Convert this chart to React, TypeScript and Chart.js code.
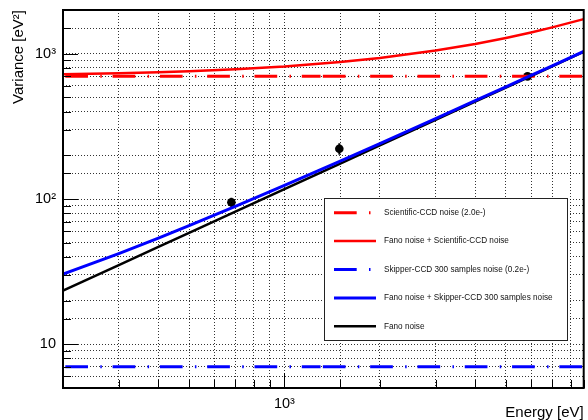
import React, { useEffect, useRef } from 'react';
import { Chart, registerables } from 'chart.js';

Chart.register(...registerables);

// ---- data ----
const curveEnergies = [200, 300, 400, 500, 700, 1000, 1500, 2000, 3000, 4000, 5000, 6000, 7000, 8800];
const fanoNoise = [23.4, 35.1, 46.8, 58.5, 81.9, 117, 175.5, 234, 351, 468, 585, 702, 819, 1030];
const fanoPlusScientific = [723, 735, 747, 759, 782, 817, 876, 934, 1051, 1168, 1285, 1402, 1519, 1730];
const fanoPlusSkipper = [30.4, 42.1, 53.8, 65.5, 88.9, 124, 182.5, 241, 358, 475, 592, 709, 826, 1037];

// flat noise levels (drawn in two pieces, as in the reference)
const flatEnergiesLow = [200, 1300];
const flatEnergiesHigh = [1300, 8800];
const scientificNoise = [700, 700];
const skipperNoise = [7, 7];

// measured points
const measEnergies = [680, 1490, 5850];
const measVariance = [95, 222, 698];
const measError = [7, 20, 15];

// axes
const xRange = [200, 8800];
const yRange = [5, 2000];
const xTickLabels: Record<number, string> = { 1000: '10\u00b3' };
const yTickLabels: Record<number, string> = { 10: '10', 100: '10\u00b2', 1000: '10\u00b3' };

const legendLabels = [
  'Scientific-CCD noise (2.0e-)',
  'Fano noise + Scientific-CCD noise',
  'Skipper-CCD 300 samples noise (0.2e-)',
  'Fano noise + Skipper-CCD 300 samples noise',
  'Fano noise',
];

const RED = '#ff0000';
const BLUE = '#0000ff';
const BLACK = '#000000';
const FONT = '"Liberation Sans", Arial, Helvetica, sans-serif';
const DASH = [22.7, 12.3, 1.5, 10.8];
const DASH_OFFSET = 45;

const legendStyles = [
  { color: RED, dashed: true, width: 3 },
  { color: RED, dashed: false, width: 2.5 },
  { color: BLUE, dashed: true, width: 3 },
  { color: BLUE, dashed: false, width: 3 },
  { color: BLACK, dashed: false, width: 2.5 },
];

const pts = (xs: number[], ys: number[]) => xs.map((x, i) => ({ x, y: ys[i] }));

const labelFor = (table: Record<number, string>, v: number) => {
  for (const k of Object.keys(table)) {
    if (Math.abs(Number(k) - v) < 1e-6) return table[Number(k)];
  }
  return '';
};

const isPow10 = (v: number) => Math.abs(Math.log10(v) - Math.round(Math.log10(v))) < 1e-9;

const errorBarPlugin = {
  id: 'errorBars',
  beforeDatasetsDraw(chart: any) {
    const { ctx, scales } = chart;
    ctx.save();
    ctx.strokeStyle = BLACK;
    ctx.lineWidth = 2;
    measEnergies.forEach((e, i) => {
      const px = scales.x.getPixelForValue(e);
      const y1 = scales.y.getPixelForValue(measVariance[i] - measError[i]);
      const y2 = scales.y.getPixelForValue(measVariance[i] + measError[i]);
      ctx.beginPath();
      ctx.moveTo(px, y1);
      ctx.lineTo(px, y2);
      ctx.stroke();
    });
    ctx.restore();
  },
};

const framePlugin = {
  id: 'rootFrame',
  afterDatasetsDraw(chart: any) {
    const { ctx, chartArea: a, scales } = chart;
    ctx.save();
    ctx.strokeStyle = BLACK;
    ctx.lineWidth = 1;
    scales.y.ticks.forEach((t: any) => {
      const py = Math.round(scales.y.getPixelForValue(t.value)) + 0.5;
      const len = isPow10(t.value) ? 15 : 8;
      ctx.beginPath();
      ctx.moveTo(a.left, py);
      ctx.lineTo(a.left + len, py);
      ctx.stroke();
    });
    scales.x.ticks.forEach((t: any) => {
      const px = Math.round(scales.x.getPixelForValue(t.value)) + 0.5;
      const len = isPow10(t.value) ? 15 : 8;
      ctx.beginPath();
      ctx.moveTo(px, a.bottom);
      ctx.lineTo(px, a.bottom - len);
      ctx.stroke();
    });
    ctx.lineWidth = 2;
    ctx.strokeRect(a.left, a.top, a.right - a.left, a.bottom - a.top);

    // legend box
    const w = a.right - a.left;
    const h = a.bottom - a.top;
    const x1 = Math.round(a.left + 0.502 * w) + 0.5;
    const x2 = Math.round(a.left + 0.968 * w) + 0.5;
    const y1 = Math.round(a.top + 0.497 * h) + 0.5;
    const y2 = Math.round(a.top + 0.873 * h) + 0.5;
    ctx.fillStyle = '#ffffff';
    ctx.fillRect(x1, y1, x2 - x1, y2 - y1);
    ctx.lineWidth = 1;
    ctx.strokeStyle = '#222';
    ctx.strokeRect(x1, y1, x2 - x1, y2 - y1);
    const rowH = (y2 - y1) / legendLabels.length;
    ctx.font = `8.2px ${FONT}`;
    ctx.textBaseline = 'middle';
    ctx.textAlign = 'left';
    legendLabels.forEach((label, i) => {
      const st = legendStyles[i];
      const cy = y1 + rowH * (i + 0.5);
      ctx.save();
      ctx.strokeStyle = st.color;
      ctx.lineWidth = st.width;
      ctx.setLineDash(st.dashed ? DASH : []);
      ctx.beginPath();
      ctx.moveTo(x1 + 9.5, cy);
      ctx.lineTo(x1 + 51.5, cy);
      ctx.stroke();
      ctx.restore();
      ctx.fillStyle = '#111';
      ctx.fillText(label, x1 + 59.5, cy);
    });
    ctx.restore();
  },
};

export default function App() {
  const ref = useRef<HTMLCanvasElement>(null);

  useEffect(() => {
    const canvas = ref.current;
    if (!canvas) return;
    const lineCommon = { pointRadius: 0, pointHoverRadius: 0, fill: false, tension: 0 };
    const chart = new Chart(canvas, {
      type: 'line',
      data: {
        datasets: [
          { ...lineCommon, label: legendLabels[3], data: pts(curveEnergies, fanoPlusSkipper), borderColor: BLUE, borderWidth: 3 },
          { ...lineCommon, label: legendLabels[4], data: pts(curveEnergies, fanoNoise), borderColor: BLACK, borderWidth: 2.5 },
          { ...lineCommon, label: legendLabels[1], data: pts(curveEnergies, fanoPlusScientific), borderColor: RED, borderWidth: 2.5 },
          { ...lineCommon, label: legendLabels[0], data: pts(flatEnergiesLow, scientificNoise), borderColor: RED, borderWidth: 3, borderDash: DASH, borderDashOffset: DASH_OFFSET },
          { ...lineCommon, label: legendLabels[0], data: pts(flatEnergiesHigh, scientificNoise), borderColor: RED, borderWidth: 3, borderDash: DASH, borderDashOffset: DASH_OFFSET },
          { ...lineCommon, label: legendLabels[2], data: pts(flatEnergiesLow, skipperNoise), borderColor: BLUE, borderWidth: 3, borderDash: DASH, borderDashOffset: DASH_OFFSET },
          { ...lineCommon, label: legendLabels[2], data: pts(flatEnergiesHigh, skipperNoise), borderColor: BLUE, borderWidth: 3, borderDash: DASH, borderDashOffset: DASH_OFFSET },
          {
            label: 'Data',
            data: pts(measEnergies, measVariance),
            showLine: false,
            pointRadius: 4.3,
            pointHoverRadius: 4.3,
            pointBackgroundColor: BLACK,
            pointBorderColor: BLACK,
            pointBorderWidth: 0,
          },
        ] as any,
      },
      options: {
        animation: false,
        responsive: false,
        devicePixelRatio: 1,
        parsing: true,
        events: [],
        layout: { padding: { left: 0, right: 4, top: 10, bottom: 0 } },
        plugins: {
          legend: { display: false },
          tooltip: { enabled: false },
          title: { display: false },
        },
        scales: {
          x: {
            type: 'logarithmic',
            position: 'bottom',
            min: xRange[0],
            max: xRange[1],
            afterFit: (s: any) => { s.height = 32; s.paddingLeft = 0; s.paddingRight = 0; },
            grid: { color: 'rgba(0,0,0,0.8)', lineWidth: 1, drawTicks: false },
            border: { display: false, dash: [1, 2] },
            ticks: {
              autoSkip: false,
              maxRotation: 0,
              minRotation: 0,
              padding: 7,
              color: BLACK,
              font: { family: FONT, size: 14.5 },
              callback: (v: any) => labelFor(xTickLabels, Number(v)),
            },
            title: {
              display: true,
              text: 'Energy [eV]',
              align: 'end',
              color: BLACK,
              font: { family: FONT, size: 15 },
              padding: { top: 0, bottom: -2 },
            },
          },
          y: {
            type: 'logarithmic',
            position: 'left',
            min: yRange[0],
            max: yRange[1],
            afterFit: (s: any) => { s.width = 63; s.paddingTop = 0; s.paddingBottom = 0; },
            grid: { color: 'rgba(0,0,0,0.8)', lineWidth: 1, drawTicks: false },
            border: { display: false, dash: [1, 2] },
            ticks: {
              autoSkip: false,
              padding: 7,
              color: BLACK,
              font: { family: FONT, size: 14.5 },
              callback: (v: any) => labelFor(yTickLabels, Number(v)),
            },
            title: {
              display: true,
              text: 'Variance [eV\u00b2]',
              align: 'end',
              color: BLACK,
              font: { family: FONT, size: 15 },
              padding: { top: 10, bottom: 0 },
            },
          },
        },
      } as any,
      plugins: [errorBarPlugin, framePlugin],
    });
    return () => chart.destroy();
  }, []);

  return (
    <div style={{ position: 'absolute', left: 0, top: 0, width: 588, height: 420, background: '#fff' }}>
      <canvas ref={ref} width={588} height={420} style={{ display: 'block', width: 588, height: 420 }} />
    </div>
  );
}
